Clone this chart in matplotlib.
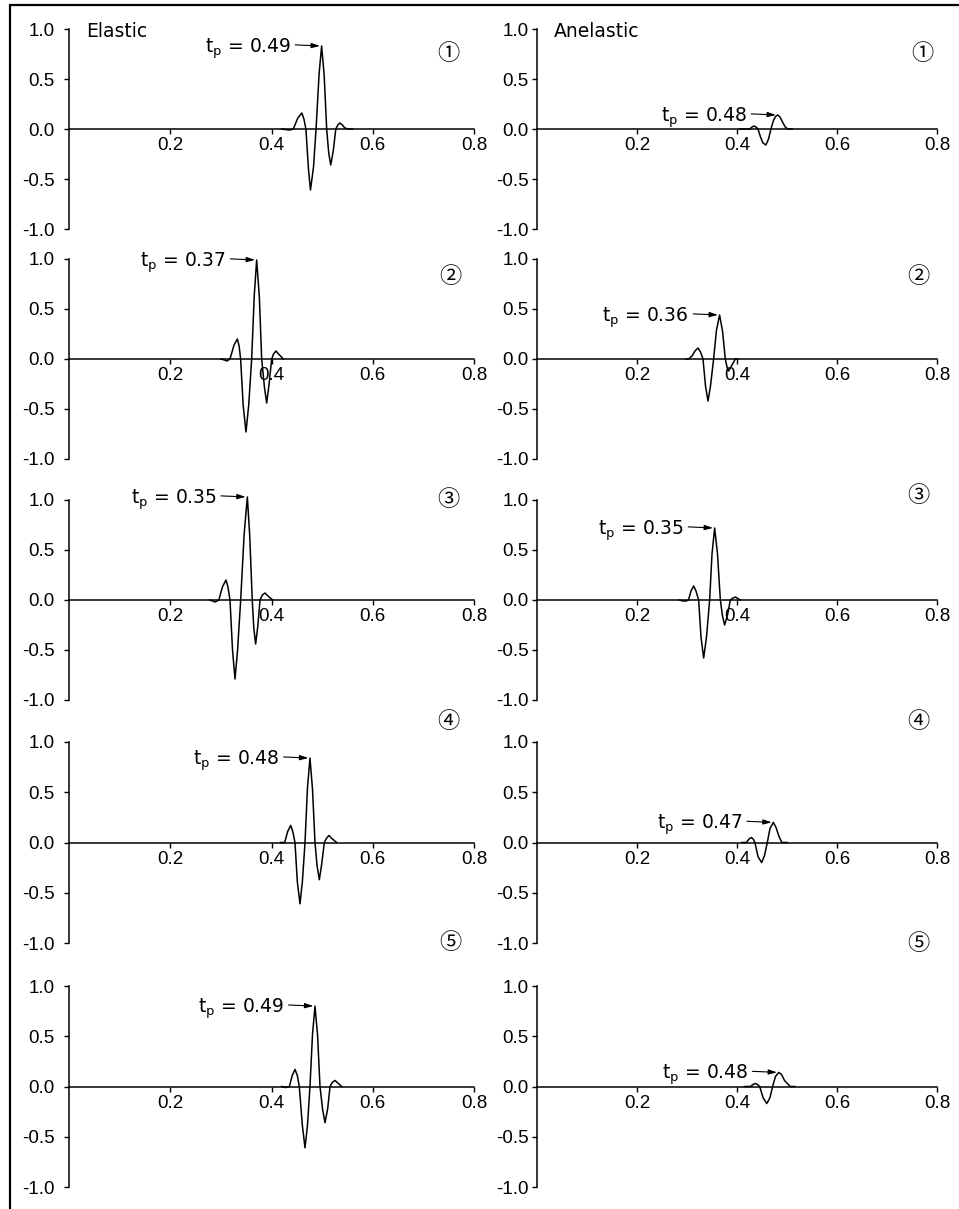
import numpy as np
import matplotlib.pyplot as plt
from matplotlib.patches import Rectangle
from matplotlib.ticker import FormatStrFormatter

plt.rcParams['font.family'] = ['Liberation Sans', 'DejaVu Sans']
plt.rcParams['mathtext.fontset'] = 'dejavusans'
plt.rcParams['axes.unicode_minus'] = False

# --- elastic traces (time s, normalised amplitude) ---
e1_t = [0.420, 0.427, 0.436, 0.443, 0.452, 0.460, 0.464, 0.468, 0.473, 0.477, 0.483, 0.488, 0.494,
        0.499, 0.504, 0.509, 0.513, 0.517, 0.522, 0.527, 0.531, 0.535, 0.540, 0.545, 0.552, 0.560]
e1_a = [0.0, -0.005, -0.01, 0.0, 0.11, 0.16, 0.10, 0.0, -0.40, -0.61, -0.38, 0.0, 0.55,
        0.83, 0.54, 0.0, -0.24, -0.36, -0.22, 0.0, 0.04, 0.06, 0.04, 0.01, 0.0, 0.0]

e2_t = [0.300, 0.307, 0.312, 0.318, 0.326, 0.3325, 0.336, 0.339, 0.344, 0.3496, 0.355, 0.3608,
        0.366, 0.3707, 0.376, 0.3806, 0.386, 0.3905, 0.395, 0.4004, 0.404, 0.4089, 0.414, 0.4233]
e2_a = [0.0, -0.01, -0.02, 0.0, 0.14, 0.20, 0.13, 0.0, -0.46, -0.73, -0.46, 0.0,
        0.64, 0.99, 0.62, 0.0, -0.28, -0.44, -0.26, 0.0, 0.05, 0.08, 0.05, 0.0]

e3_t = [0.278, 0.284, 0.2884, 0.296, 0.303, 0.3101, 0.314, 0.318, 0.323, 0.3279, 0.333, 0.3391,
        0.346, 0.3523, 0.357, 0.362, 0.365, 0.3687, 0.373, 0.3773, 0.382, 0.3872, 0.393, 0.4023]
e3_a = [0.0, -0.01, -0.02, 0.0, 0.13, 0.20, 0.13, 0.0, -0.50, -0.79, -0.50, 0.0,
        0.66, 1.03, 0.64, 0.0, -0.28, -0.44, -0.26, 0.0, 0.05, 0.07, 0.04, 0.0]

e4_t = [0.418, 0.426, 0.432, 0.4379, 0.442, 0.4464, 0.451, 0.4563, 0.461, 0.4662, 0.471,
        0.476, 0.481, 0.4859, 0.490, 0.4945, 0.499, 0.5044, 0.509, 0.5136, 0.519, 0.5288]
e4_a = [0.0, 0.0, 0.11, 0.17, 0.11, 0.0, -0.39, -0.61, -0.39, 0.0, 0.54,
        0.84, 0.53, 0.0, -0.23, -0.37, -0.22, 0.0, 0.045, 0.07, 0.04, 0.0]

e5_t = [0.420, 0.4286, 0.4353, 0.441, 0.4464, 0.451, 0.4549, 0.461, 0.4662, 0.471, 0.476, 0.481,
        0.4859, 0.491, 0.4958, 0.501, 0.5057, 0.511, 0.5156, 0.520, 0.5254, 0.531, 0.5387]
e5_a = [0.0, -0.01, 0.0, 0.11, 0.17, 0.11, 0.0, -0.39, -0.61, -0.39, 0.0, 0.52,
        0.80, 0.51, 0.0, -0.23, -0.36, -0.22, 0.0, 0.04, 0.06, 0.035, 0.0]

# --- anelastic traces ---
a1_t = [0.405, 0.420, 0.4255, 0.430, 0.434, 0.438, 0.442, 0.447, 0.452, 0.4578,
        0.463, 0.4679, 0.4725, 0.4770, 0.4813, 0.486, 0.491, 0.4965, 0.5017, 0.510]
a1_a = [0.0, 0.0, 0.0, 0.02, 0.03, 0.02, 0.0, -0.08, -0.14, -0.16,
        -0.10, 0.0, 0.08, 0.125, 0.14, 0.12, 0.07, 0.02, 0.0, 0.0]

a2_t = [0.298, 0.3032, 0.310, 0.316, 0.322, 0.327, 0.332, 0.337, 0.342, 0.347,
        0.3532, 0.359, 0.3652, 0.371, 0.3766, 0.3800, 0.3832, 0.390, 0.3966, 0.402]
a2_a = [0.0, 0.0, 0.03, 0.08, 0.11, 0.07, 0.0, -0.27, -0.42, -0.27,
        0.0, 0.29, 0.44, 0.28, 0.0, -0.08, -0.12, -0.06, 0.0, 0.0]

a3_t = [0.285, 0.292, 0.298, 0.303, 0.308, 0.3133, 0.318, 0.3233, 0.328, 0.3333, 0.339, 0.3453,
        0.350, 0.3553, 0.361, 0.3667, 0.371, 0.3753, 0.381, 0.3867, 0.392, 0.3967, 0.4067]
a3_a = [0.0, -0.01, -0.01, 0.0, 0.09, 0.14, 0.09, 0.0, -0.37, -0.58, -0.37, 0.0,
        0.46, 0.72, 0.46, 0.0, -0.16, -0.25, -0.15, 0.0, 0.02, 0.03, 0.0]

a4_t = [0.410, 0.419, 0.424, 0.4291, 0.433, 0.4358, 0.442, 0.4493,
        0.455, 0.4606, 0.466, 0.4727, 0.478, 0.484, 0.4897, 0.500]
a4_a = [0.0, 0.0, 0.035, 0.05, 0.03, 0.0, -0.14, -0.20,
        -0.13, 0.0, 0.14, 0.20, 0.15, 0.06, 0.0, 0.0]

a5_t = [0.415, 0.427, 0.432, 0.4372, 0.441, 0.4454, 0.452, 0.4596,
        0.466, 0.4712, 0.477, 0.4834, 0.489, 0.495, 0.5064, 0.515]
a5_a = [0.0, 0.0, 0.02, 0.03, 0.02, 0.0, -0.11, -0.17,
        -0.11, 0.0, 0.10, 0.14, 0.12, 0.06, 0.0, 0.0]

elastic = [(e1_t, e1_a), (e2_t, e2_a), (e3_t, e3_a), (e4_t, e4_a), (e5_t, e5_a)]
anelastic = [(a1_t, a1_a), (a2_t, a2_a), (a3_t, a3_a), (a4_t, a4_a), (a5_t, a5_a)]
tp_elastic = ['0.49', '0.37', '0.35', '0.48', '0.49']
tp_anelastic = ['0.48', '0.36', '0.35', '0.47', '0.48']
case_marks = ['\u2460', '\u2461', '\u2462', '\u2463', '\u2464']
col_titles = ['Elastic', 'Anelastic']
x_ticks = [0.2, 0.4, 0.6, 0.8]
y_ticks = [-1.0, -0.5, 0.0, 0.5, 1.0]

W, H = 959, 1209
fig = plt.figure(figsize=(W / 100, H / 100), dpi=100)

# pixel layout: (left, right) per column, (top, bottom) per row
col_px = [(69, 474), (537, 937)]
row_px = [(29, 229), (259, 459), (500, 700), (742, 943), (986, 1187)]
ylab_pad = [7, 2.5]
mark_pos = [[(0.936, 0.88), (0.941, 0.91), (0.936, 1.0), (0.936, 1.10), (0.941, 1.215)],
            [(0.963, 0.88), (0.953, 0.91), (0.953, 1.02), (0.953, 1.10), (0.953, 1.21)]]

for c, (traces, tps) in enumerate([(elastic, tp_elastic), (anelastic, tp_anelastic)]):
    x0, x1 = col_px[c]
    for r, (t, a) in enumerate(traces):
        y0, y1 = row_px[r]
        ax = fig.add_axes([x0 / W, 1 - y1 / H, (x1 - x0) / W, (y1 - y0) / H])
        ax.set_facecolor('none')
        ax.plot(t, a, color='black', lw=1.1, clip_on=False)
        ax.set_xlim(0, 0.8)
        ax.set_ylim(-1.0, 1.0)
        ax.spines['top'].set_visible(False)
        ax.spines['right'].set_visible(False)
        ax.spines['bottom'].set_position(('data', 0))
        for s in ('left', 'bottom'):
            ax.spines[s].set_linewidth(1.1)
        ax.set_xticks(x_ticks)
        ax.set_yticks(y_ticks)
        ax.xaxis.set_major_formatter(FormatStrFormatter('%.1f'))
        ax.yaxis.set_major_formatter(FormatStrFormatter('%.1f'))
        ax.tick_params(axis='x', direction='out', length=3.6, width=1.0, pad=2.5, labelsize=13.5)
        ax.tick_params(axis='y', direction='out', length=3.6, width=1.0, pad=ylab_pad[c], labelsize=13.5)

        # peak arrow and t_p label
        k = int(np.argmax(a))
        ax.annotate('', xy=(t[k], a[k]), xytext=(-19, 0.8), textcoords='offset points',
                    annotation_clip=False,
                    arrowprops=dict(arrowstyle='-|>,head_length=0.5,head_width=0.15',
                                    color='black', lw=0.8, shrinkA=0, shrinkB=1.2))
        ax.annotate(r'$\mathrm{t_p}$ = ' + tps[r], xy=(t[k], a[k]), xytext=(-22, -4.8),
                    textcoords='offset points', ha='right', va='baseline', fontsize=13.5,
                    family='DejaVu Sans', annotation_clip=False)

        mx, my = mark_pos[c][r]
        ax.text(mx, my, case_marks[r], transform=ax.transAxes, ha='center', va='center',
                fontsize=16, family=['Noto Sans CJK JP', 'DejaVu Sans'], clip_on=False)
        if r == 0:
            ax.text(0.042, 0.958, col_titles[c], transform=ax.transAxes, ha='left',
                    va='baseline', fontsize=13.5, family='DejaVu Sans')

# page frame
fig.add_artist(Rectangle((10 / W, -0.05), 1.2, 1 - 5 / H + 0.05, transform=fig.transFigure,
                         fill=False, lw=1.6, color='black'))

plt.savefig('out.png', dpi=100)
plt.close()
